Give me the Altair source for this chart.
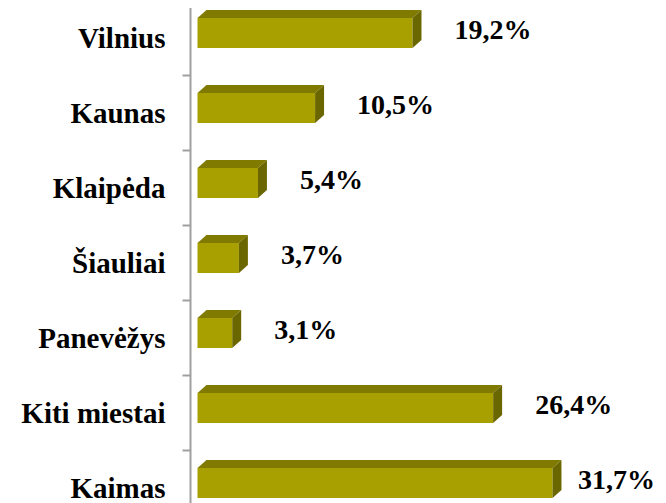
import altair as alt
import pandas as pd

categories = ["Vilnius", "Kaunas", "Klaipėda", "Šiauliai", "Panevėžys", "Kiti miestai", "Kaimas"]
values = [19.2, 10.5, 5.4, 3.7, 3.1, 26.4, 31.7]

FRONT = "#A8A000"
TOP = "#807B00"
SIDE = "#6B6700"
FONT = "'Times New Roman', 'Liberation Serif', serif"

# 3D geometry constants (in data units)
DX = 0.8      # depth along x, in %
DY = 8 / 75   # depth along y, in band units
FT, FB = 0.24, 0.64  # front face top/bottom within a band
XMIN, XMAX = -0.67, 41.12

base = pd.DataFrame({"cat": categories, "v": values, "i": range(len(categories))})
base["yc"] = base["i"] + (FT + FB) / 2

top_rows, side_rows = [], []
for c, v, i in zip(categories, values, range(len(categories))):
    yt, yb = i + FT, i + FB
    top_rows += [
        {"cat": c, "x": 0.0, "y": yt, "y2": yt},
        {"cat": c, "x": DX, "y": yt - DY, "y2": yt},
        {"cat": c, "x": v, "y": yt - DY, "y2": yt},
        {"cat": c, "x": v + DX, "y": yt - DY, "y2": yt - DY},
    ]
    side_rows += [
        {"cat": c, "x": v, "y": yt, "y2": yb},
        {"cat": c, "x": v + DX, "y": yt - DY, "y2": yb - DY},
    ]
top_df = pd.DataFrame(top_rows)
side_df = pd.DataFrame(side_rows)

xscale = alt.Scale(domain=[XMIN, XMAX], nice=False, zero=False)
yq = alt.Scale(domain=[0, 7], reverse=True, nice=False, zero=False)

front = alt.Chart(base).mark_bar(color=FRONT, size=30, yOffset=-4.5).encode(
    x=alt.X("v:Q", scale=xscale, axis=None),
    y=alt.Y("cat:N", sort=categories, title=None,
            scale=alt.Scale(paddingInner=0, paddingOuter=0),
            axis=alt.Axis(tickBand="extent", domainColor="#A0A0A0", domainWidth=2,
                          tickColor="#A0A0A0", tickWidth=2, tickSize=8,
                          labelFont=FONT, labelFontWeight="bold", labelFontSize=29,
                          labelColor="black", labelPadding=17, labelAlign="right",
                          labelOffset=1, labelLimit=400)),
)

topf = alt.Chart(top_df).mark_area(color=TOP, orient="vertical", opacity=1).encode(
    x=alt.X("x:Q", scale=xscale, axis=None),
    y=alt.Y("y:Q", scale=yq, axis=None),
    y2="y2:Q",
    detail="cat:N",
)

sidef = alt.Chart(side_df).mark_area(color=SIDE, orient="vertical", opacity=1).encode(
    x=alt.X("x:Q", scale=xscale, axis=None),
    y=alt.Y("y:Q", scale=yq, axis=None),
    y2="y2:Q",
    detail="cat:N",
)

# labels sit ~42px right of the bar front, kept inside the plot area
labels = alt.Chart(base).transform_calculate(
    lab="replace(format(datum.v, '.1f'), '.', ',') + '%'",
    lx=f"min(datum.v + 3.75, {XMAX} - 7.15)",
).mark_text(font=FONT, fontWeight="bold", fontSize=28, align="left",
            baseline="middle", dy=-2.5, color="black").encode(
    x=alt.X("lx:Q", scale=xscale, axis=None),
    y=alt.Y("yc:Q", scale=yq, axis=None),
    text="lab:N",
)

chart = alt.layer(front, topf, sidef, labels).resolve_scale(y="independent").properties(
    width=468, height=525,
    autosize=alt.AutoSizeParams(type="none"),
    padding={"left": 182, "top": -8, "right": 0, "bottom": 0},
).configure_view(stroke=None).configure(background="white")

chart.save("out.html", embed_options={"renderer": "svg", "actions": False})
